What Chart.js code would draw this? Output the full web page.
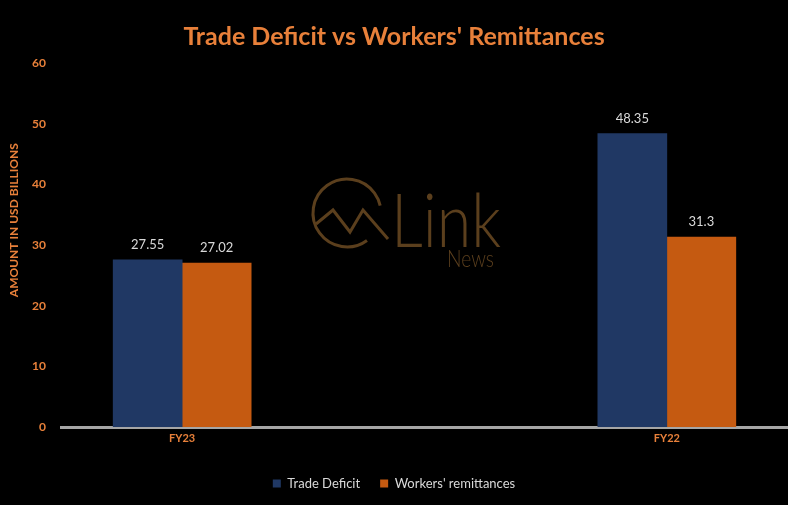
<!DOCTYPE html>
<html>
<head>
<meta charset="utf-8">
<script src="https://cdn.jsdelivr.net/npm/chart.js@4"></script>
<style>
  html, body { margin: 0; padding: 0; background: #000; }
  #wrap { width: 788px; height: 505px; position: relative; }
</style>
</head>
<body>
<div id="wrap"><canvas id="c" width="788" height="505"></canvas></div>
<script>
const categories = ['FY23', 'FY22'];
const tradeDeficit = [27.55, 48.35];
const workersRemittances = [27.02, 31.3];
const yTicks = [0, 10, 20, 30, 40, 50, 60];
const seriesNames = ['Trade Deficit', "Workers' remittances"];

const ORANGE = '#e8803a';
const BLUE = '#203864';
const ORANGE_BAR = '#c55a11';
const LABEL = '#d9d9d9';

const bgPlugin = {
  id: 'bg',
  beforeDraw(chart) {
    const ctx = chart.ctx;
    ctx.save();
    ctx.fillStyle = '#000';
    ctx.fillRect(0, 0, chart.width, chart.height);
    // faint watermark logo
    const col = '#5b3f1d';
    ctx.strokeStyle = col;
    ctx.lineWidth = 3;
    ctx.beginPath();
    ctx.arc(347, 213, 34, 0.3 * Math.PI, 1.93 * Math.PI);
    ctx.stroke();
    ctx.beginPath();
    ctx.moveTo(316, 224);
    ctx.lineTo(333, 210);
    ctx.lineTo(350, 232);
    ctx.lineTo(363, 210);
    ctx.lineTo(388, 239);
    ctx.stroke();
    ctx.fillStyle = col;
    ctx.textBaseline = 'alphabetic';
    ctx.textAlign = 'left';
    ctx.font = '300 74px Lato';
    const w = ctx.measureText('Link').width;
    ctx.save();
    ctx.translate(391, 247);
    ctx.scale(110 / w, 1);
    ctx.fillText('Link', 0, 0);
    ctx.restore();
    ctx.font = '300 24px Lato';
    const w2 = ctx.measureText('News').width;
    ctx.save();
    ctx.translate(447, 267);
    ctx.scale(47 / w2, 1);
    ctx.fillText('News', 0, 0);
    ctx.restore();
    ctx.restore();
  }
};

const valueLabels = {
  id: 'valueLabels',
  afterDatasetsDraw(chart) {
    const ctx = chart.ctx;
    ctx.save();
    ctx.fillStyle = LABEL;
    ctx.font = '13px Lato';
    ctx.textAlign = 'center';
    ctx.textBaseline = 'middle';
    chart.data.datasets.forEach((ds, di) => {
      const meta = chart.getDatasetMeta(di);
      meta.data.forEach((el, i) => {
        ctx.fillText(String(ds.data[i].y), el.x, el.y - 15);
      });
    });
    ctx.restore();
  }
};

new Chart(document.getElementById('c'), {
  type: 'bar',
  data: {
    datasets: [
      {
        label: seriesNames[0],
        data: categories.map((c, i) => ({ x: i, y: tradeDeficit[i] })),
        backgroundColor: BLUE,
        barThickness: 69
      },
      {
        label: seriesNames[1],
        data: categories.map((c, i) => ({ x: i, y: workersRemittances[i] })),
        backgroundColor: ORANGE_BAR,
        barThickness: 69
      }
    ]
  },
  options: {
    responsive: false,
    animation: false,
    devicePixelRatio: 1,
    layout: { padding: { top: 0, right: 0, bottom: 5, left: 0 } },
    plugins: {
      title: {
        display: true,
        text: "Trade Deficit vs Workers' Remittances",
        color: ORANGE,
        font: { family: 'Lato', size: 25, weight: 'bold', lineHeight: 1.2 },
        padding: { top: 22, bottom: 11 }
      },
      legend: {
        position: 'bottom',
        labels: {
          color: LABEL,
          font: { family: 'Lato', size: 13 },
          boxWidth: 8,
          boxHeight: 8,
          padding: 20
        }
      },
      tooltip: { enabled: false }
    },
    scales: {
      x: {
        type: 'linear',
        offset: false,
        min: -0.25,
        max: 1.25,
        afterBuildTicks(scale) {
          scale.ticks = categories.map((c, i) => ({ value: i }));
        },
        afterFit(scale) { scale.height = 30; },
        grid: { display: false, drawTicks: false, offset: false },
        border: { display: true, color: '#a6a6a6', width: 3 },
        ticks: {
          color: ORANGE,
          font: { family: 'Lato', size: 11, weight: 'bold' },
          padding: 5,
          maxRotation: 0,
          autoSkip: false,
          callback: (v) => categories[v] ?? ''
        }
      },
      y: {
        min: 0,
        max: 60,
        afterBuildTicks(scale) {
          scale.ticks = yTicks.map(v => ({ value: v }));
        },
        afterFit(scale) { scale.width = 61; },
        grid: { display: false, drawTicks: false },
        border: { display: false },
        ticks: {
          color: ORANGE,
          font: { family: 'Lato', size: 12, weight: 'bold' },
          padding: 15
        },
        title: {
          display: true,
          text: '                 AMOUNT IN USD BILLIONS',
          color: ORANGE,
          font: { family: 'Lato', size: 12, weight: 'bold' },
          padding: { top: 7, bottom: 0 }
        }
      }
    }
  },
  plugins: [bgPlugin, valueLabels]
});
</script>
</body>
</html>
